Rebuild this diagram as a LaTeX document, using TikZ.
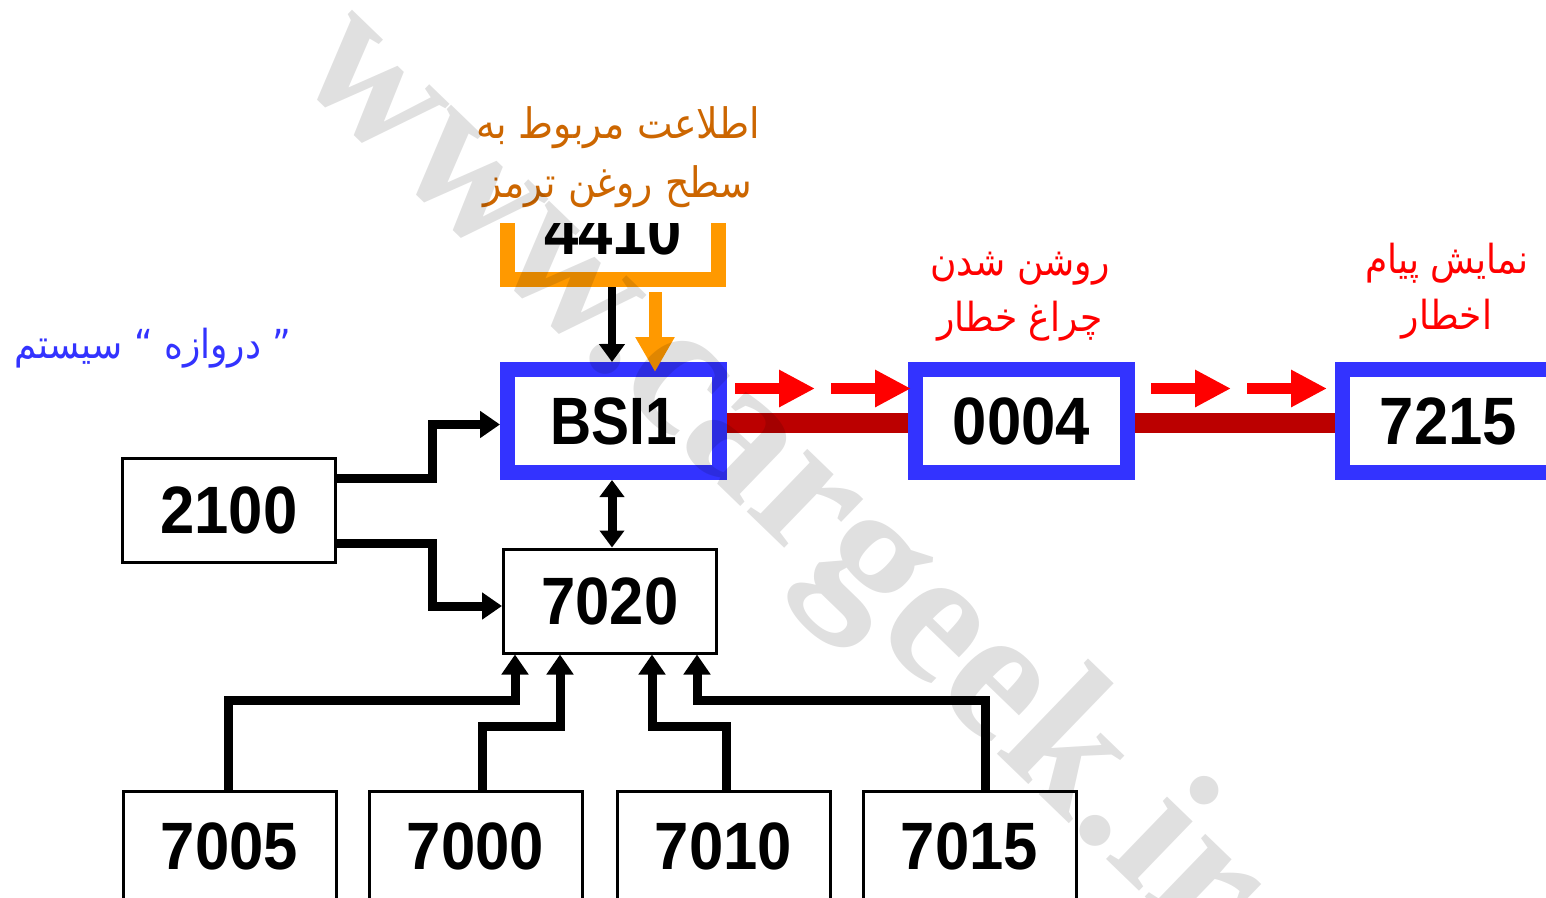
\documentclass[tikz,border=0pt]{standalone}
\usepackage{fontspec}
\setmainfont{Liberation Sans}
\newfontfamily\arabicfont[Script=Arabic,FakeStretch=0.9]{DejaVu Sans}
\newfontfamily\numfont[FakeStretch=0.92]{Liberation Sans}
\newfontfamily\bsifont[FakeStretch=0.85]{Liberation Sans}
\newfontfamily\wmfont{Liberation Serif}
\TeXXeTstate=1
\usetikzlibrary{arrows.meta}
\definecolor{bxblue}{HTML}{3333FF}
\definecolor{bxorange}{HTML}{FF9900}
\definecolor{txorange}{HTML}{CC6600}
\definecolor{barred}{HTML}{BB0000}
\begin{document}
\begin{tikzpicture}[x=1pt,y=-1pt,
  numtxt/.style={font=\numfont\bfseries\fontsize{67}{67}\selectfont},
  thinbox/.style={draw=black, line width=3pt, fill=white, minimum width=213pt,
    minimum height=104pt, inner sep=0pt, numtxt},
  bluebox/.style={draw=bxblue, line width=15pt, fill=white, minimum width=212pt,
    minimum height=103pt, inner sep=0pt, numtxt},
  conn/.style={line width=9pt, black, -{Triangle[length=20pt,width=26pt]}},
  dblconn/.style={line width=9pt, black, {Triangle[length=17pt,width=24pt]}-{Triangle[length=17pt,width=24pt]}},
  feedarrow/.style={line width=8pt, black, -{Triangle[length=18pt,width=25pt]}},
  orangearrow/.style={line width=13pt, bxorange, -{Triangle[length=35pt,width=37pt]}},
  redarrow/.style={line width=11pt, red, -{Triangle[length=36pt,width=35pt]}},
  redbar/.style={line width=20pt, barred},
  arlabel/.style={align=center, inner sep=0pt, font=\arabicfont\fontsize{40}{56}\selectfont},
]
\clip (0,0) rectangle (1546,897);
\fill[white] (0,0) rectangle (1546,897);

% 4410 (top cut off)
\begin{scope}
  \clip (480,223) rectangle (750,300);
  \node[minimum width=211pt, minimum height=97pt, inner sep=0pt, outer sep=0pt, numtxt] (n4410) at (613,231) {4410};
  \draw[bxorange, line width=15pt] (n4410.north west) -- (n4410.south west) -- (n4410.south east) -- (n4410.north east);
\end{scope}

% boxes
\node[bluebox] (bsi) at (613.5,421) {\bsifont\bfseries BSI1};
\node[bluebox] (n0004) at (1021.5,421) {0004};
\node[bluebox] (n7215) at (1448.5,421) {7215};
\node[thinbox] (n2100) at (229,510.5) {2100};
\node[thinbox] (n7020) at (610,601) {7020};
\node[thinbox, minimum height=110pt] (n7005) at (229.5,846) {7005};
\node[thinbox, minimum height=110pt] (n7000) at (475.5,846) {7000};
\node[thinbox, minimum height=110pt] (n7010) at (723.5,846) {7010};
\node[thinbox, minimum height=110pt] (n7015) at (969.5,846) {7015};

% red bus and arrows
\draw[redbar] ([yshift=-1.5pt]bsi.east) -- ([yshift=-1.5pt]n0004.west);
\draw[redbar] ([yshift=-1.5pt]n0004.east) -- ([yshift=-1.5pt]n7215.west);
\draw[redarrow] ([xshift=8pt,yshift=32.5pt]bsi.east) -- ++(80,0);
\draw[redarrow] ([xshift=104pt,yshift=32.5pt]bsi.east) -- ([xshift=3pt,yshift=32.5pt]n0004.west);
\draw[redarrow] ([xshift=16pt,yshift=32.5pt]n0004.east) -- ++(80,0);
\draw[redarrow] ([xshift=112pt,yshift=32.5pt]n0004.east) -- ([xshift=-8pt,yshift=32.5pt]n7215.west);

% 4410 -> BSI1
\draw[feedarrow] ([xshift=-1pt,yshift=-7.5pt]n4410.south) -- (612,0 |- bsi.north);
\draw[orangearrow] ([xshift=42pt,yshift=-12.5pt]n4410.south) -- ([xshift=41.5pt,yshift=-10pt]bsi.north);

% 2100 connections
\draw[conn] ([yshift=32pt]n2100.east) -- ++(95,0) |- ([yshift=-3.5pt]bsi.west);
\draw[conn] ([yshift=-33pt]n2100.east) -- ++(95,0) |- ([yshift=-5pt]n7020.west);

% BSI1 <-> 7020
\draw[dblconn] (612,0 |- bsi.south) -- (612,0 |- n7020.north);

% bottom modules -> 7020
\draw[conn] ([xshift=-1.5pt]n7005.north) |- (515,700) -- (515,0 |- n7020.south);
\draw[conn] ([xshift=6.5pt]n7000.north) |- (560,726) -- (560,0 |- n7020.south);
\draw[conn] ([xshift=2.5pt]n7010.north) |- (652,726) -- (652,0 |- n7020.south);
\draw[conn] ([xshift=15.5pt]n7015.north) |- (697,700) -- (697,0 |- n7020.south);

% labels
\node[arlabel, text=txorange, font=\arabicfont\fontsize{42}{59}\selectfont] (l4410) at (618,157)
  {\beginR اطلاعت مربوط به\endR\\\beginR سطح روغن ترمز\endR};
\node[arlabel, text=red] (l0004) at (1020,297)
  {\beginR روشن شدن\endR\\\beginR چراغ خطار\endR};
\node[arlabel, text=red] (l7215) at (1447,291)
  {\beginR نمایش پیام\endR\\\beginR اخطار\endR};
\node[arlabel, text=bxblue] (lgate) at (153,348)
  {\beginR ” دروازه “ سیستم\endR};

% watermark
\node[rotate=-44, text=black, opacity=0.12, inner sep=0pt,
  font=\wmfont\bfseries\fontsize{190}{190}\selectfont] (wm) at (778,480) {www.cargeek.ir};
\end{tikzpicture}
\end{document}
